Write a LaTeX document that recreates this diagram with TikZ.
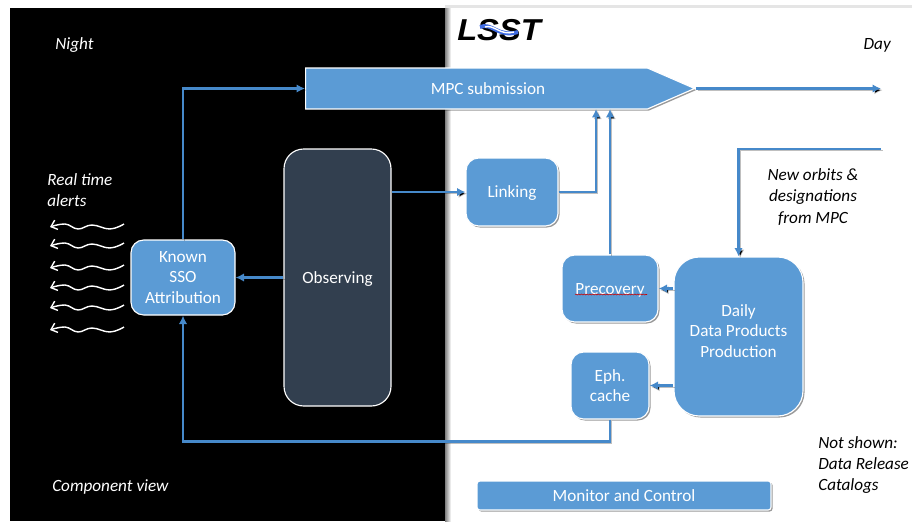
\documentclass[tikz,border=0pt]{standalone}
\usepackage{fontspec}
\setmainfont{Carlito}
\newfontfamily\logofont{Liberation Sans}
\usetikzlibrary{positioning,calc,arrows.meta,shadows,shapes.symbols,decorations.pathmorphing}
\definecolor{boxblue}{HTML}{5B9BD5}
\definecolor{lineblue}{HTML}{4689CA}
\definecolor{darkbox}{HTML}{323F4F}
\tikzset{font=\fontsize{12.2}{14.6}\selectfont}
\tikzset{
	boxshadow/.style={drop shadow={shadow xshift=1.1pt, shadow yshift=-1.1pt, fill=black, opacity=0.4}},
	block/.style={draw=white, line width=0.8pt, fill=boxblue, text=white, align=center, rounded corners=9pt, inner sep=0pt, boxshadow},
	oneline/.style={text height=8.4pt, text depth=0pt},
	conn/.style={draw=lineblue, line width=1.7pt, -{Latex[length=6pt,width=6pt]},
		preaction={draw=black, draw opacity=0.25, transform canvas={shift={(1.2pt,-1.2pt)}}}},
	note/.style={align=left, font=\fontsize{12.2}{15}\selectfont\itshape, inner sep=0pt},
	wave/.style={draw=white, line width=1pt, -{Straight Barb[length=4pt,width=7pt]}}
}

\begin{document}
\begin{tikzpicture}[x=0.025cm, y=-0.025cm]
	\useasboundingbox (0, 0) rectangle (912, 521);
	\fill[white] (0, 0) rectangle (912, 521);
	\fill[black!10] (445, 5) rectangle (912, 8);
	\shade[left color=black!50, right color=white] (445, 8) rectangle (451, 521);
	\fill[black] (10, 8) rectangle (445, 521);

	% logo
	\node[inner sep=0pt, xscale=1.08, font=\logofont\bfseries\itshape\fontsize{21.5}{21.5}\selectfont] (logo) at (499, 30) {LSST};
	\draw[boxblue!70!blue, line width=2.8pt] (480, 27) .. controls (492, 22) and (498, 38) .. (518, 32);
	\draw[white, line width=1pt] (485, 27) .. controls (494, 24) and (500, 36) .. (514, 32);

	\node[block, signal, signal to=east, signal from=nowhere, signal pointer angle=47, rounded corners=0pt,
		minimum width=389*0.025cm, minimum height=41*0.025cm] (mpc) at (476.5, 88.5) {};
	\node[text=white, inner sep=0pt] (mpclabel) at (488, 88.5) {MPC submission};

	\node[block, minimum width=104*0.025cm, minimum height=75*0.025cm] (known) at (183, 277.5) {Known\\SSO\\Attribution};
	\node[block, oneline, fill=darkbox, rounded corners=14pt, minimum width=107*0.025cm, minimum height=257*0.025cm] (obs) at (337.5, 277.5) {Observing};
	\node[block, oneline, minimum width=92*0.025cm, minimum height=68*0.025cm] (link) at (512, 192) {Linking};
	\node[block, oneline, minimum width=96*0.025cm, minimum height=67*0.025cm] (pre) at (610, 288.5) {Precovery};
	\node[block, minimum width=78*0.025cm, minimum height=67*0.025cm] (eph) at (610, 385.5) {Eph.\\cache};
	\node[block, rounded corners=18pt, minimum width=129*0.025cm, minimum height=159*0.025cm] (daily) at (738.5, 336.5) {Daily\\Data Products\\Production\\[-6.7pt]};
	\node[block, rounded corners=2pt, minimum width=294*0.025cm, minimum height=29*0.025cm] (mon) at (624, 495.5) {Monitor and Control};

	\draw[red!80!black, line width=0.4pt, decorate, decoration={snake, amplitude=0.35pt, segment length=2pt}]
		($(pre.center)+(-35, 6)$) -- ($(pre.center)+(37, 6)$);

	\coordinate (outmpc) at (881, 88.5);
	\coordinate (inday) at (881, 149);
	\coordinate (linkup) at (596, 109);

	\draw[conn] (known.north) |- (mpc.west);
	\draw[conn] (mpc.east) -- (outmpc);
	\draw[conn] (obs) -- (known);
	\draw[conn] (obs.east |- link.west) -- (link.west);
	\draw[conn] (link.east) -| (linkup);
	\draw[conn] (pre.north) -- (pre.north |- linkup);
	\draw[conn] (inday) -| (daily.north);
	\draw[conn] (daily.west |- pre.east) -- (pre.east);
	\draw[conn] (daily.west |- eph.east) -- (eph.east);
	\draw[conn] (eph.south) -- ++(0, 22) -| (known.south);

	% alerts
	\foreach \i/\y in {1/224, 2/243, 3/265, 4/285, 5/305, 6/327} {
		\coordinate (wv\i) at (124, \y);
		\draw[wave, shift={(wv\i)}] plot[smooth, tension=0.7] coordinates {(0, 0) (-14, 5) (-32, 1) (-46, 5) (-59, 0) (-74, 3)};
	}

	\node[note, text=white, anchor=west] (night) at (55, 45) {Night};
	\node[note, anchor=east] (day) at (891, 45) {Day};
	\node[note, text=white, anchor=north west] (alerts) at (47, 173) {Real time\\alerts};
	\node[note, text=white, anchor=west] (comp) at (52, 487) {Component view};
	\node[note, align=center] (orbits) at (813, 197) {New orbits \&\\designations\\from MPC};
	\node[note, anchor=north west] (notshown) at (818, 436) {Not shown:\\Data Release\\Catalogs};
\end{tikzpicture}
\end{document}
